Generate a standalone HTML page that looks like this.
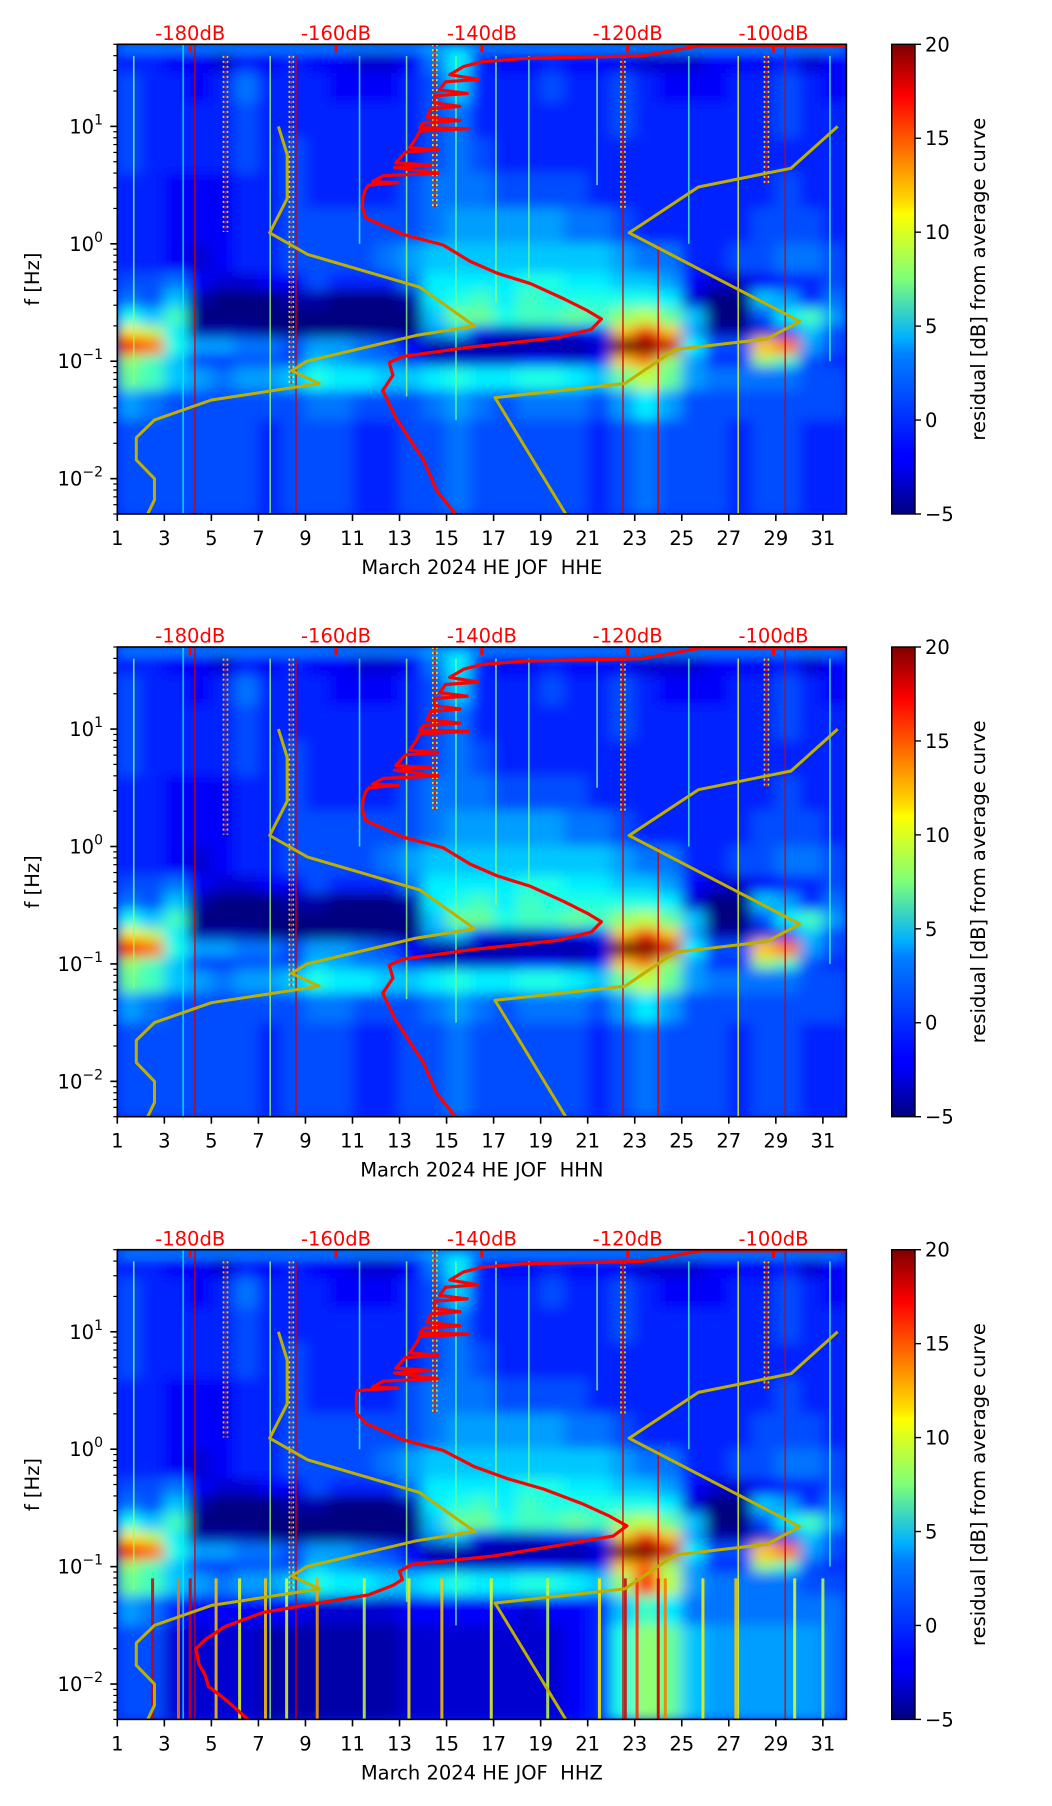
<!DOCTYPE html>
<html><head><meta charset="utf-8"><title>March 2024 HE JOF spectrograms</title>
<style>
html,body{margin:0;padding:0;background:#fff;}
svg{display:block;font-family:"DejaVu Sans","Liberation Sans",sans-serif;}
text{white-space:pre;}
</style></head>
<body>
<svg id="fig" xmlns="http://www.w3.org/2000/svg" width="1052" height="1806" viewBox="0 0 1052 1806">
<defs>
<linearGradient id="jetGrad" x1="0" y1="1" x2="0" y2="0">
<stop offset="0" stop-color="#00007f"/><stop offset="0.11" stop-color="#0000ff"/><stop offset="0.125" stop-color="#0000ff"/>
<stop offset="0.34" stop-color="#0080ff"/><stop offset="0.375" stop-color="#00b0ff"/><stop offset="0.5" stop-color="#7dff7a"/>
<stop offset="0.64" stop-color="#ffff00"/><stop offset="0.66" stop-color="#ffe000"/><stop offset="0.89" stop-color="#ff0000"/><stop offset="1" stop-color="#7f0000"/>
</linearGradient>
<filter id="soft" x="-5%" y="-5%" width="110%" height="110%"><feGaussianBlur stdDeviation="7 6"/></filter>
</defs>
</svg>
<script>
// ---------- data ----------
const days = [1,2,3,4,5,6,7,8,9,10,11,12,13,14,15,16,17,18,19,20,21,22,23,24,25,26,27,28,29,30,31];
const bandEdges = [1.7,1.64,1.45,1.2,0.9,0.6,0.3,0.0,-0.25,-0.4,-0.55,-0.7,-0.8,-0.95,-1.05,-1.25,-1.5,-2.31];
const rowsHorizontal = [
[2,2,2,2,2,2,2,2,2,2,2,2,2,3,3,2,2,2,2,2,2,2,2,2,2,2,2,2,2,2,2],
[-1,-1,-2,-2,-3,-1,-2,-1,-2,-2,-3,-3,-2,1,4,-1,-2,-2,-1,-2,-2,-2,-3,-3,-3,-2,-2,-2,-1,-3,-2],
[0,-1,-1,-2,-1,1,-1,-1,-1,-2,-2,-2,-1,0,3,-1,-1,-1,0,-1,-1,0,-1,-2,-2,-2,-1,-1,0,-1,-2],
[0,-1,-1,-1,-1,0,-1,-1,-1,-1,-1,-1,-1,0,1,-1,-1,-1,-1,-1,-1,0,-1,-1,-1,-1,-1,-1,0,-1,-1],
[0,-1,-1,-1,-1,0,-1,0,-1,-1,-1,-1,-1,0,1,0,-1,-1,-1,-1,-1,-1,-1,-1,-1,-1,-1,-1,-1,-1,-1],
[-1,-1,-2,-2,-2,-1,-1,0,-1,-1,-1,-1,0,1,1,1,0,0,0,0,-1,-1,-1,-1,-1,-1,-1,-1,0,-1,-1],
[-1,-1,-2,-2,-2,-1,-1,0,0,0,0,0,0,1,2,2,2,2,2,1,1,0,-1,-1,-1,-1,-1,0,0,0,-1],
[-1,-1,-2,-3,-2,-1,-1,0,0,0,0,1,2,3,3,3,3,3,3,3,3,2,1,1,-1,-1,0,0,1,1,0],
[0,0,1,-2,-3,-3,-2,-2,0,-1,-1,-1,1,4,4,4,4,5,5,4,4,3,3,2,-2,-3,-3,-2,-1,-1,0],
[1,0,3,-4,-5,-5,-5,-4,-4,-5,-5,-5,-4,4,5,6,4,6,5,5,5,5,5,4,-3,-5,-5,3,2,-1,1],
[5,3,6,-5,-5,-5,-5,-5,-5,-5,-5,-5,-5,3,7,7,5,6,6,7,6,8,9,7,3,-5,-5,0,4,6,2],
[11,9,4,-4,-4,-4,-5,-5,-5,-5,-5,-5,-5,2,3,-2,-3,-3,-2,-2,-1,12,16,12,2,-4,-4,-3,-2,3,0],
[16,14,5,2,2,1,1,0,2,2,1,0,-2,-4,-4,-4,-4,-4,-4,-4,-3,20,20,18,4,0,0,12,14,2,0],
[8,6,3,-1,-1,0,0,-1,3,2,1,1,-1,-3,-3,-3,-3,-2,-2,-3,-2,12,14,8,2,-1,-1,8,6,0,-1],
[7,6,3,2,1,2,2,3,5,4,4,3,3,4,5,4,4,5,5,4,3,7,9,7,2,1,1,1,1,0,0],
[2,1,0,0,0,0,0,0,1,1,0,0,0,1,2,1,0,1,1,1,0,2,4,2,0,0,0,0,0,0,0],
[0,0,0,0,0,0,-1,0,0,0,-1,-1,0,0,1,0,0,0,0,0,-1,0,1,0,0,0,-1,0,0,-1,-1]
];
const rowsVerticalLow = [
[7,6,3,2,1,2,2,3,5,4,4,3,3,4,5,4,4,5,5,4,3,8,16,9,2,1,1,1,1,0,0],
[2,1,-1,-2,-2,-2,-2,-2,-3,-3,-3,-3,-2,-2,-2,-2,-2,-3,-2,-2,-1,3,6,4,1,1,1,1,1,1,1],
[0,0,-3,-3,-3,-3,-4,-4,-4,-4,-4,-4,-3,-3,-3,-3,-3,-3,-3,-2,-1,5,8,7,3,2,2,2,2,2,1]
];
// vertical streaks: day position, top log10(f), bottom log10(f), level dB
const streakDay = [1.7,3.8,4.3,5.6,7.5,8.4,8.6,11.3,13.3,14.5,15.4,17.1,18.5,21.4,22.5,22.5,24.0,25.3,27.4,28.6,29.4,31.3];
const streakTop = [1.6,1.7,1.7,1.6,1.6,1.6,1.6,1.6,1.6,1.7,1.6,1.6,1.6,1.6,1.6,1.6,0.0,1.6,1.6,1.6,1.7,1.6];
const streakBot = [-1.2,-2.3,-2.3,0.1,-2.3,-1.2,-2.3,0.0,-1.3,0.3,-1.5,-0.5,-0.3,0.5,0.3,-2.3,-2.3,0.0,-2.3,0.5,-2.3,-1.0];
const streakVal = [8,4,18,14,8,13,18,6,8,14,7,8,7,8,14,18,18,6,10,14,18,6];
const zStreakDay = [2.5,3.6,4.1,5.2,6.2,7.3,8.2,9.5,11.5,13.4,14.8,16.9,19.3,21.5,22.6,23.1,24.0,24.3,25.9,27.3,29.8,31.0];
const zStreakVal = [18,14,18,12,10,12,10,13,9,11,12,10,9,11,18,16,18,14,11,12,10,9];
// red PSD curves: log10(f) and dB
const redLogF = [1.69,1.69,1.6,1.58,1.55,1.51,1.44,1.40,1.38,1.31,1.28,1.26,1.2,1.17,1.15,1.08,1.05,1.03,0.99,0.98,0.96,0.9,0.82,0.80,0.78,0.69,0.67,0.65,0.6,0.58,0.53,0.52,0.5,0.47,0.40,0.31,0.22,0.08,-0.01,-0.15,-0.25,-0.34,-0.47,-0.57,-0.64,-0.73,-0.80,-0.88,-0.96,-1.01,-1.12,-1.25,-1.48,-1.71,-1.84,-2.10,-2.31];
const redDbE = [-90,-110,-118,-134,-140,-142.5,-144.4,-140.5,-145,-145.8,-142,-146.5,-146.5,-143,-147,-147.5,-143,-148,-148.5,-141.8,-148.5,-149,-149.9,-146,-150.5,-151.8,-147,-152,-146,-153.5,-155,-151.5,-155.5,-155.9,-156.3,-156.4,-155.9,-150.8,-145.3,-141.6,-137.9,-133.3,-128.7,-125.5,-123.6,-125,-129.6,-141.6,-150.8,-152.7,-152.2,-153.6,-151.8,-149.4,-148,-146.2,-143.5];
const redLogFZ = [1.69,1.69,1.6,1.58,1.55,1.51,1.44,1.40,1.38,1.31,1.28,1.26,1.2,1.17,1.15,1.08,1.05,1.03,0.99,0.98,0.96,0.9,0.82,0.80,0.78,0.69,0.67,0.65,0.6,0.58,0.53,0.52,0.5,0.47,0.40,0.31,0.22,0.08,-0.01,-0.15,-0.25,-0.34,-0.47,-0.57,-0.653,-0.74,-0.81,-0.91,-0.98,-1.04,-1.11,-1.16,-1.24,-1.32,-1.39,-1.51,-1.62,-1.70,-1.83,-1.93,-2.02,-2.13,-2.31];
const redDbZ = [-90,-110,-118,-134,-140,-142.5,-144.4,-140.5,-145,-145.8,-142,-146.5,-146.5,-143,-147,-147.5,-143,-148,-148.5,-141.8,-148.5,-149,-149.9,-146,-150.5,-151.8,-147,-152,-146,-153.5,-155,-151.5,-157,-157.2,-157.2,-157.2,-155.9,-150.8,-145.3,-141,-136.5,-131.5,-126,-122.5,-120.1,-122,-128.6,-138.5,-149.6,-151.3,-150.9,-152.2,-155.5,-163.4,-170,-175.2,-177.9,-179.2,-178.8,-177.9,-177.5,-175.2,-171.9];
// Peterson noise models
const nlnmLogF = [1.0,0.76,0.386,0.094,-0.09,-0.37,-0.70,-0.78,-1.0,-1.08,-1.19,-1.33,-1.50,-1.65,-1.84,-2.0,-2.18,-2.31];
const nlnmDb = [-167.9,-166.7,-166.7,-169.1,-163.9,-148.5,-141.0,-149,-164,-166.1,-162.3,-177.1,-184.9,-187.4,-187.4,-184.9,-184.9,-185.9];
const nhnmLogF = [1.0,0.643,0.484,0.094,-0.66,-0.81,-0.90,-1.19,-1.31,-2.31];
const nhnmDb = [-91.2,-97.6,-110.3,-119.8,-96.4,-100.9,-113.5,-120.4,-138.2,-128.4];
const xTickDays = [1,3,5,7,9,11,13,15,17,19,21,23,25,27,29,31];
const dbTicks = [-180,-160,-140,-120,-100];
const cbTicks = [-5,0,5,10,15,20];
const stations = ["HHE","HHN","HHZ"];

// ---------- geometry ----------
const NS = "http://www.w3.org/2000/svg";
const L = 117.3, R = 846.4, T = 44.3, B = 514.0;
const PANEL_DY = 602.7;
const FS = 19.5;
const xDay = d => L + (d - 1) / 31 * (R - L);
const xDb = db => L + (db + 190) / 100 * (R - L);
const LOGMAX = Math.log10(50), LOGMIN = Math.log10(0.005);
const yLog = lf => T + (LOGMAX - lf) / (LOGMAX - LOGMIN) * (B - T);
const CBL = 891.7, CBR = 915;
const yCb = v => T + (20 - v) / 25 * (B - T);

function jet(v){
  let t = (v + 5) / 25; t = Math.max(0, Math.min(1, t));
  const f = x => Math.max(0, Math.min(1, x));
  const r = f(1.5 - Math.abs(4*t - 3)), g = f(1.5 - Math.abs(4*t - 2)), b = f(1.5 - Math.abs(4*t - 1));
  return `rgb(${Math.round(r*255)},${Math.round(g*255)},${Math.round(b*255)})`;
}
function mk(tag, attrs, parent){
  const e = document.createElementNS(NS, tag);
  for (const k in attrs) e.setAttribute(k, attrs[k]);
  if (parent) parent.appendChild(e);
  return e;
}
const svg = document.getElementById('fig');

stations.forEach((st, pi) => {
  const dy = pi * PANEL_DY;
  const g = mk('g', {transform:`translate(0,${dy})`}, svg);
  
  

  const clipId = 'clip' + pi;
  const cp = mk('clipPath', {id: clipId}, g);
  mk('rect', {x:L, y:T, width:R-L, height:B-T}, cp);

  const plot = mk('g', {'clip-path':`url(#${clipId})`}, g);
  
  
  mk('rect', {x:L, y:T, width:R-L, height:B-T, fill:jet(-1)}, plot);

  const rows = rowsHorizontal.map((r, i) => (st === "HHZ" && i >= 14) ? rowsVerticalLow[i - 14] : r);
  const heat = mk('g', {filter:'url(#soft)'}, plot);
  rows.forEach((row, bi) => {
    row.forEach((v, di) => {
      const y0 = yLog(bandEdges[bi]), y1 = yLog(bandEdges[bi+1]);
      const x0 = xDay(days[di]), x1 = xDay(days[di] + 1);
      const c = mk('rect', {x:x0-0.5, y:y0-0.5, width:x1-x0+1, height:y1-y0+1, fill:jet(v)}, heat);
      
      
    });
  });
  // streaks
  streakDay.forEach((d, i) => {
    const wide = streakVal[i] >= 12 && streakBot[i] > -2;
    const x = xDay(d), y1 = yLog(streakTop[i]), y2 = yLog(streakBot[i]);
    if (wide) {
      [-2, 0, 2].forEach((off, j) => {
        const s = mk('line', {x1:x+off, y1:y1, x2:x+off, y2:y2, stroke:jet(j === 1 ? streakVal[i] + 3 : streakVal[i] - 3), 'stroke-width':1.6, 'stroke-dasharray': j === 1 ? '3 2' : '2 3', opacity:0.9}, plot);
        
        
      });
    } else {
      const s = mk('rect', {x:x-0.8, y:y1, width:1.6, height:y2-y1, fill:jet(streakVal[i]), opacity:0.8}, plot);
      
      
    }
  });
  if (st === "HHZ") {
    zStreakDay.forEach((d, i) => {
      const s = mk('rect', {x:xDay(d)-1.5, y:yLog(-1.1), width:3, height:yLog(-2.31)-yLog(-1.1), fill:jet(zStreakVal[i]), opacity:0.85}, plot);
      
      
    });
  }
  // red dB ticks at top
  dbTicks.forEach(db => {
    const t = mk('rect', {x:xDb(db)-1.5, y:T, width:3, height:8, fill:'#ff0000'}, plot);
    
    
  });
  // noise model curves
  const ptsLow = nlnmLogF.map((lf, i) => `${xDb(nlnmDb[i]).toFixed(1)},${yLog(lf).toFixed(1)}`).join(' ');
  const nl = mk('polyline', {points:ptsLow, fill:'none', stroke:'#bfb000', 'stroke-width':3, 'stroke-linejoin':'round'}, plot);
  
  
  const ptsHigh = nhnmLogF.map((lf, i) => `${xDb(nhnmDb[i]).toFixed(1)},${yLog(lf).toFixed(1)}`).join(' ');
  const nh = mk('polyline', {points:ptsHigh, fill:'none', stroke:'#bfb000', 'stroke-width':3, 'stroke-linejoin':'round'}, plot);
  
  
  // red curve
  const lfArr = st === "HHZ" ? redLogFZ : redLogF;
  const dbArr = st === "HHZ" ? redDbZ : redDbE;
  const ptsRed = lfArr.map((lf, i) => `${xDb(dbArr[i]).toFixed(1)},${yLog(lf).toFixed(1)}`).join(' ');
  const rc = mk('polyline', {points:ptsRed, fill:'none', stroke:'#ff0000', 'stroke-width':3.2, 'stroke-linejoin':'round'}, plot);
  
  

  // frame
  const fr = mk('rect', {x:L, y:T, width:R-L, height:B-T, fill:'none', stroke:'#000', 'stroke-width':1.6}, g);
  
  

  // x ticks
  xTickDays.forEach(d => {
    const x = xDay(d);
    mk('line', {x1:x, y1:B, x2:x, y2:B+7, stroke:'#000', 'stroke-width':1.6}, g);
    const t = mk('text', {x:x, y:545, 'font-size':FS, 'text-anchor':'middle', fill:'#000'}, g);
    t.textContent = d;
    
    
  });
  const xl = mk('text', {x:(L+R)/2, y:574, 'font-size':FS, 'text-anchor':'middle', fill:'#000'}, g);
  xl.textContent = 'March 2024 HE JOF  ' + st;
  
  

  // top dB labels
  dbTicks.forEach(db => {
    const t = mk('text', {x:xDb(db), y:40, 'font-size':FS, 'text-anchor':'middle', fill:'#ff0000'}, g);
    t.textContent = db + 'dB';
    
    
  });

  // y ticks (log)
  for (let e = -3; e <= 1; e++) {
    for (let k = 1; k <= 9; k++) {
      const lf = e + Math.log10(k);
      if (lf < LOGMIN || lf > LOGMAX) continue;
      const y = yLog(lf);
      mk('line', {x1:L, y1:y, x2:L-(k===1?7:4), y2:y, stroke:'#000', 'stroke-width':k===1?1.6:1.2}, g);
      if (k === 1) {
        const t = mk('text', {x:103, y:y+7, 'font-size':FS, 'text-anchor':'end', fill:'#000'}, g);
        
        
        const a = mk('tspan', {}, t); a.textContent = '10';
        const s = mk('tspan', {'font-size':14, dy:-9}, t); s.textContent = (e < 0 ? '\u2212' : '') + Math.abs(e);
      }
    }
  }
  const yl = mk('text', {x:0, y:0, 'font-size':FS, 'text-anchor':'middle', fill:'#000', transform:`translate(39,${(T+B)/2}) rotate(-90)`}, g);
  yl.textContent = 'f [Hz]';
  
  

  // colorbar
  const cb = mk('rect', {x:CBL, y:T, width:CBR-CBL, height:B-T, fill:'url(#jetGrad)', stroke:'#000', 'stroke-width':1.4}, g);
  
  
  cbTicks.forEach(v => {
    const y = yCb(v);
    mk('line', {x1:CBR, y1:y, x2:CBR+6, y2:y, stroke:'#000', 'stroke-width':1.4}, g);
    const t = mk('text', {x:925, y:y+7, 'font-size':FS, fill:'#000'}, g);
    t.textContent = v < 0 ? '\u2212' + Math.abs(v) : v;
    
    
  });
  const cl = mk('text', {x:0, y:0, 'font-size':FS, 'text-anchor':'middle', fill:'#000', transform:`translate(985,${(T+B)/2}) rotate(-90)`}, g);
  cl.textContent = 'residual [dB] from average curve';
  
  
});
</script>
</body></html>
